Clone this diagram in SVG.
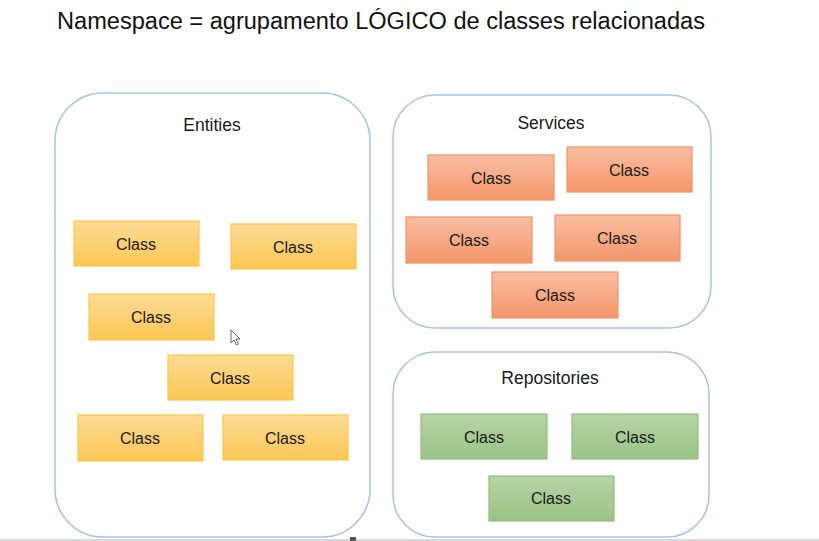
<svg xmlns="http://www.w3.org/2000/svg" width="819" height="541" viewBox="0 0 819 541">
<defs>
<linearGradient id="gY" x1="0" y1="0" x2="0" y2="1"><stop offset="0" stop-color="#fddb96"/><stop offset="1" stop-color="#fbc753"/></linearGradient>
<linearGradient id="gO" x1="0" y1="0" x2="0" y2="1"><stop offset="0" stop-color="#f9bea2"/><stop offset="1" stop-color="#f4966a"/></linearGradient>
<linearGradient id="gG" x1="0" y1="0" x2="0" y2="1"><stop offset="0" stop-color="#b5d4a5"/><stop offset="1" stop-color="#9bc386"/></linearGradient>
<style>
.ns{fill:#ffffff;stroke:#a4c3e4;stroke-width:1.5}
.ttl{font-family:"Liberation Sans",Arial,sans-serif;font-size:17.5px;fill:#1a1a1a;text-anchor:middle}
.y{fill:url(#gY);stroke:#f9c84c;stroke-width:1.2}
.o{fill:url(#gO);stroke:#f19466;stroke-width:1.2}
.g{fill:url(#gG);stroke:#93bc7f;stroke-width:1.2}
.c{font-family:"Liberation Sans",Arial,sans-serif;font-size:16px;fill:#1a1a1a;text-anchor:middle}
</style>
</defs>
<rect width="819" height="541" fill="#ffffff"/>
<text x="57" y="29" font-family="Liberation Sans, Arial, sans-serif" font-size="23" fill="#111" textLength="648" lengthAdjust="spacingAndGlyphs">Namespace = agrupamento LÓGICO de classes relacionadas</text>

<g id="entities">
<rect class="ns" x="55" y="93" width="315" height="444" rx="48"/>
<text class="ttl" x="212" y="131">Entities</text>
</g>
<g id="services">
<rect class="ns" x="393" y="95" width="318" height="233" rx="42"/>
<text class="ttl" x="551" y="129">Services</text>
</g>
<g id="repositories">
<rect class="ns" x="393" y="352" width="316" height="185" rx="42"/>
<text class="ttl" x="550" y="384">Repositories</text>
</g>

<g id="e1"><rect class="y" x="74" y="221" width="125" height="45"/><text class="c" x="136" y="250">Class</text></g>
<g id="e2"><rect class="y" x="231" y="224" width="125" height="45"/><text class="c" x="293" y="253">Class</text></g>
<g id="e3"><rect class="y" x="89" y="294" width="125" height="46"/><text class="c" x="151" y="323">Class</text></g>
<g id="e4"><rect class="y" x="168" y="355" width="125" height="45"/><text class="c" x="230" y="384">Class</text></g>
<g id="e5"><rect class="y" x="78" y="415" width="125" height="46"/><text class="c" x="140" y="444">Class</text></g>
<g id="e6"><rect class="y" x="223" y="415" width="125" height="45"/><text class="c" x="285" y="444">Class</text></g>

<g id="s1"><rect class="o" x="428" y="155" width="126" height="45"/><text class="c" x="491" y="184">Class</text></g>
<g id="s2"><rect class="o" x="567" y="147" width="125" height="45"/><text class="c" x="629" y="176">Class</text></g>
<g id="s3"><rect class="o" x="406" y="217" width="126" height="46"/><text class="c" x="469" y="246">Class</text></g>
<g id="s4"><rect class="o" x="555" y="215" width="125" height="46"/><text class="c" x="617" y="244">Class</text></g>
<g id="s5"><rect class="o" x="492" y="272" width="126" height="46"/><text class="c" x="555" y="301">Class</text></g>

<g id="r1"><rect class="g" x="421" y="414" width="126" height="45"/><text class="c" x="484" y="443">Class</text></g>
<g id="r2"><rect class="g" x="572" y="414" width="126" height="45"/><text class="c" x="635" y="443">Class</text></g>
<g id="r3"><rect class="g" x="489" y="476" width="125" height="45"/><text class="c" x="551" y="504">Class</text></g>

<g id="connectors"></g>

<path d="M231 330 L231 343 L234 340 L236.5 345 L238.5 344 L236 339 L240 339 Z" fill="#ffffff" stroke="#555" stroke-width="0.9"/>
<rect x="0" y="539" width="819" height="2" fill="#d9d9d9"/>
<rect x="350" y="537" width="6" height="4" fill="#555"/>
</svg>
